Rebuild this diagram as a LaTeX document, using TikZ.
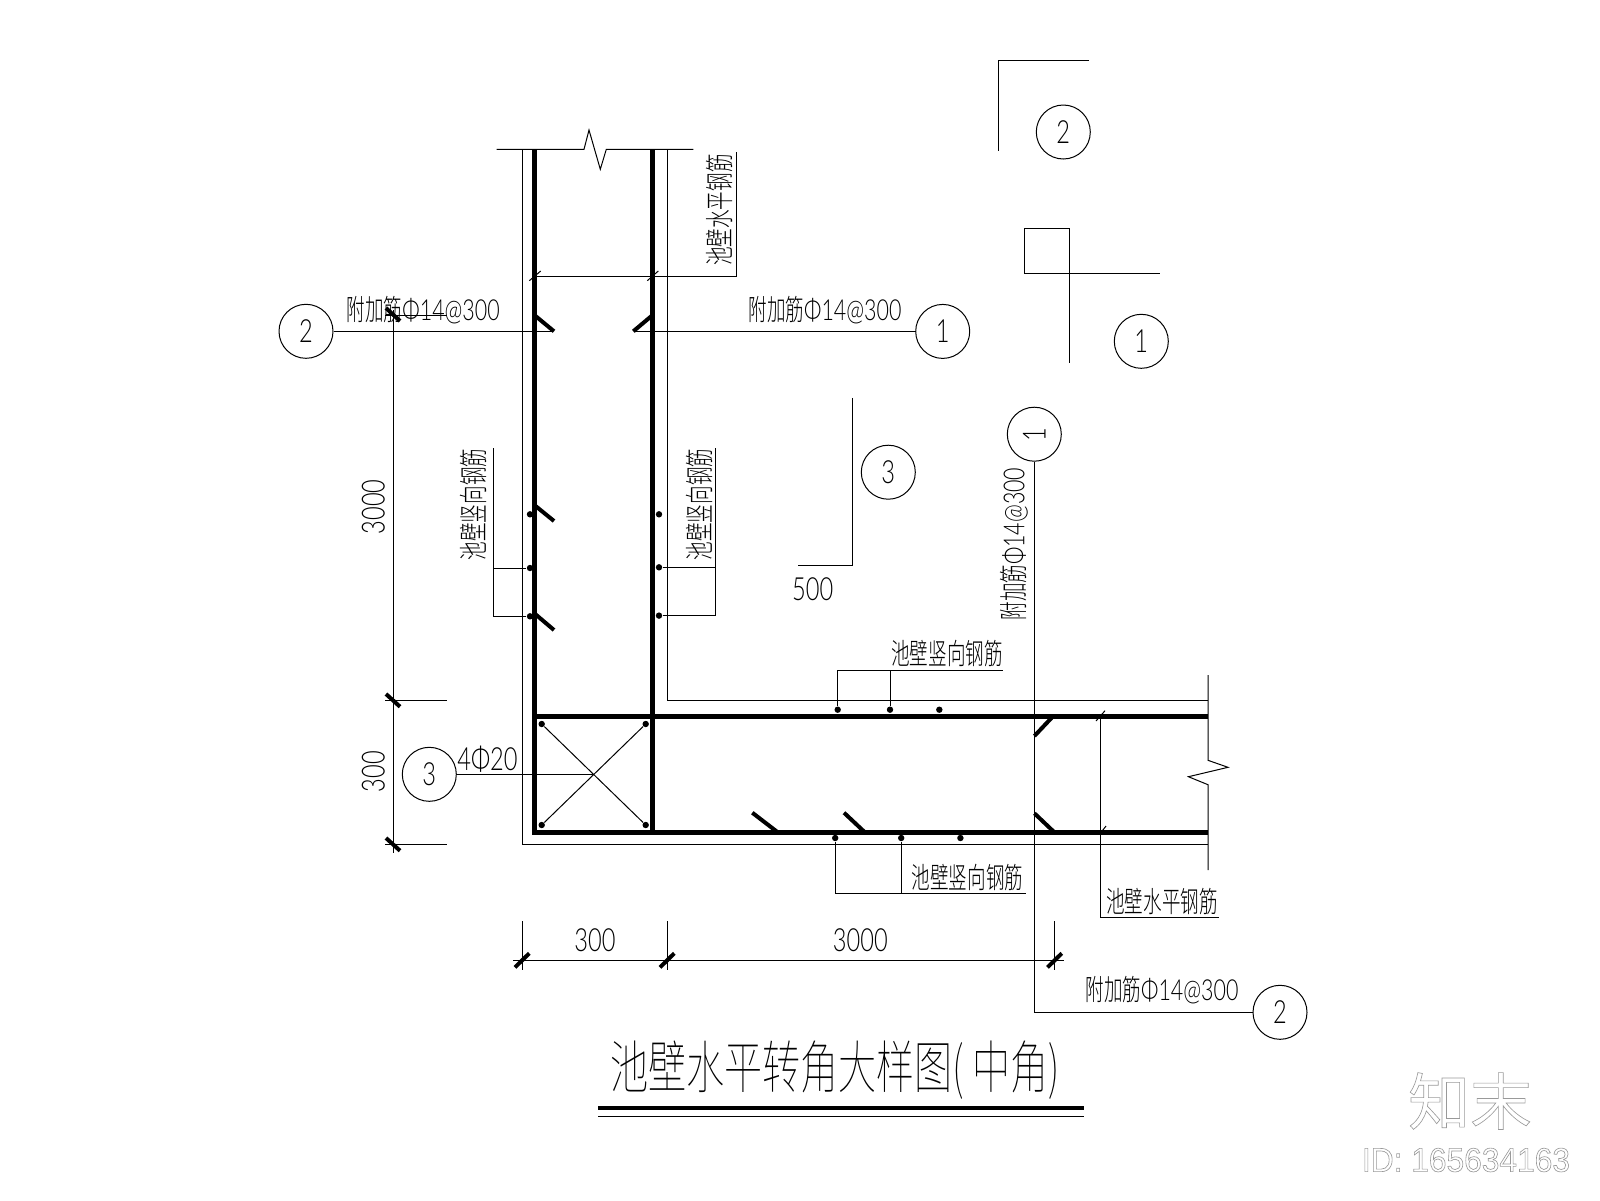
\documentclass[tikz,border=0pt]{standalone}
\usepackage{fontspec}
\usepackage{tikz}
\newfontfamily\cjk[FakeStretch=0.64,UprightFont=* Light]{Noto Sans CJK SC}
\newfontfamily\titlecjk[FakeStretch=0.665,UprightFont=* Thin]{Noto Sans CJK SC}
\newfontfamily\markcjk{Noto Sans CJK SC}
\newfontfamily\numf[FakeStretch=0.74,UprightFont=* Light]{Lato}
\newfontfamily\markf[FakeStretch=0.94]{Liberation Sans}
\newcommand{\addbar}{{\cjk 附加筋}{\numf Φ14@300}}
\newcommand{\hollowtext}[1]{\special{pdf:code q 1 Tr 0.45 w 0.6 0.6 0.6 RG}#1\special{pdf:code Q}}
\tikzset{
  thinline/.style={line width=0.25mm},
  rebar/.style={line width=1.15mm},
  hook/.style={line width=1mm},
  dimtick/.style={line width=1mm},
  bardot/.style={circle,fill=black,inner sep=0,minimum size=1.6mm},
  bubble/.style={circle,draw,line width=0.25mm,inner sep=0,minimum size=13.5mm,font=\fontsize{22.7}{22.7}\selectfont\numf},
  cjklabel/.style={inner sep=0,font=\fontsize{20.6}{20.6}\selectfont\cjk},
  numlabel/.style={inner sep=0,font=\fontsize{22.7}{22.7}\selectfont\numf},
}
\begin{document}
\begin{tikzpicture}[x=0.25mm,y=-0.25mm,thinline]
\useasboundingbox (0,0) rectangle (1600,1200);
\draw (496.7,149.3)-- (584,149.3)-- (589,130)-- (600.3,169.3)-- (606.3,149.3)-- (693.3,149.3);
\draw (522.3,149.3)-- (522.3,844.3)-- (1208,844.3);
\draw (667.3,149.3)-- (667.3,700.3)-- (1208,700.3);
\draw[rebar] (534.3,149.3)-- (534.3,835);
\draw[rebar] (652.7,149.3)-- (652.7,835);
\draw[rebar] (532,716.3)-- (1208,716.3);
\draw[rebar] (532,832.7)-- (1208,832.7);
\draw (1208,675)-- (1208,760.3)-- (1228,767.3)-- (1188.4,776.7)-- (1208,784.7)-- (1208,870);
\draw[hook] (534.3,315)-- (554,331.3);
\draw[hook] (652.7,315)-- (633.3,331.3);
\draw[hook] (534.3,505)-- (554,521);
\draw[hook] (534.3,613.3)-- (554,630);
\draw[hook] (1053,716.3)-- (1034.4,736);
\draw[hook] (778.3,832.7)-- (752.3,812.7);
\draw[hook] (865.3,832.7)-- (844,812.7);
\draw[hook] (1054.8,832.7)-- (1034.4,813.3);
\node[bardot] (d1) at (530,514.3) {};
\node[bardot] (d2) at (530,568) {};
\node[bardot] (d3) at (530,616.3) {};
\node[bardot] (d4) at (659,514.3) {};
\node[bardot] (d5) at (659,567.3) {};
\node[bardot] (d6) at (659,615.6) {};
\node[bardot] (d7) at (837.7,709.7) {};
\node[bardot] (d8) at (890,709.7) {};
\node[bardot] (d9) at (939.3,709.7) {};
\node[bardot] (d10) at (835.2,838) {};
\node[bardot] (d11) at (901.2,838) {};
\node[bardot] (d12) at (960.4,838) {};
\node[bardot] (k1) at (541.7,724) {};
\node[bardot] (k2) at (645.7,724) {};
\node[bardot] (k3) at (541.7,825) {};
\node[bardot] (k4) at (645.7,825) {};
\draw (k1)-- (k4);
\draw (k2)-- (k3);
\node[bubble] (c2a) at (306,331.3) {2};
\node[bubble] (c1a) at (942.7,331.4) {1};
\node[bubble] (c3a) at (429.3,774.3) {3};
\node[bubble] (c2b) at (1280,1012.3) {2};
\node[bubble] (c1b) at (1034.3,434.2) {\rotatebox{90}{1}};
\node[bubble] (s2) at (1063.3,132) {2};
\node[bubble] (s1) at (1141.3,341.3) {1};
\node[bubble] (s3) at (888.3,472.2) {3};
\coordinate (endA) at (552,331.3);
\coordinate (endB) at (635,331.4);
\coordinate (crossX) at (594.3,774.3);
\coordinate (turnC) at (1034.3,1012.3);
\draw (c2a)-- (endA);
\draw (c1a)-- (endB);
\draw (c3a)-- (crossX);
\draw (c1b)-- (turnC)-- (c2b);
\coordinate (hA) at (537,276);
\draw (hA)-- (736.7,276)-- (736.7,152.3);
\draw (529.3,280.7)-- (540.7,271);
\draw (647.3,280.7)-- (658.3,271);
\draw (1096,721)-- (1105,710.7);
\draw (1100.8,832.7)-- (1106,826);
\draw (1100.8,716.3)-- (1100.8,917.3)-- (1219.2,917.3);
\draw (493.3,448.3)-- (493.3,616.3)-- (d3);
\draw (493.3,568)-- (d2);
\draw (715,448.3)-- (715,615.6)-- (d6);
\draw (715,567.3)-- (d5);
\draw (d7)-- (837.7,670.3)-- (1002.8,670.3);
\draw (d8)-- (890,670.3);
\draw (d10)-- (835.2,893.3)-- (1026,893.3);
\draw (d11)-- (901.2,893.3);
\draw (393.3,310)-- (393.3,853.3);
\draw (385,315)-- (446.7,315);
\draw (385,700.3)-- (446.7,700.3);
\draw (385,844.3)-- (446.7,844.3);
\draw[dimtick] (386,308)-- (400,321);
\draw[dimtick] (386,694)-- (400,706.7);
\draw[dimtick] (386,838)-- (400,850.7);
\draw (513.3,960.3)-- (1063.8,960.3);
\draw (522.3,921)-- (522.3,970);
\draw (667.3,921)-- (667.3,970);
\draw (1054.8,921)-- (1054.8,970);
\draw[dimtick] (515,967.3)-- (529.3,953.3);
\draw[dimtick] (660,967.3)-- (674.3,953.3);
\draw[dimtick] (1047.5,967.3)-- (1061.8,953.3);
\draw (1089,60.6)-- (998.3,60.6)-- (998.3,150.7);
\draw (1024.3,228.2) rectangle (1069.3,273.3);
\draw (1069.3,273.3)-- (1160,273.3);
\draw (1069.3,273.3)-- (1069.3,363.4);
\draw (852.3,397.8)-- (852.3,565.5)-- (798,565.5);
\node[cjklabel,rotate=90] (lblH1) at (720,210) {池壁水平钢筋};
\node[cjklabel,rotate=90] (lblV1) at (473.3,504.5) {池壁竖向钢筋};
\node[cjklabel,rotate=90] (lblV2) at (700,504.5) {池壁竖向钢筋};
\node[cjklabel] (lblV3) at (947,654) {池壁竖向钢筋};
\node[cjklabel] (lblV4) at (967.5,877.3) {池壁竖向钢筋};
\node[cjklabel] (lblH2) at (1162,901.7) {池壁水平钢筋};
\node[cjklabel] (lblA) at (423.3,310) {\addbar};
\node[cjklabel] (lblB) at (825,310) {\addbar};
\node[cjklabel] (lblC) at (1162,990) {\addbar};
\node[cjklabel,rotate=90] (lblD) at (1014,544) {\addbar};
\node[numlabel] (lbl4) at (487.5,759.3) {4Φ20};
\node[numlabel,rotate=90] (dimV1) at (373.3,506.7) {3000};
\node[numlabel,rotate=90] (dimV2) at (373.3,771.7) {300};
\node[numlabel] (dimH1) at (595,940) {300};
\node[numlabel] (dimH2) at (860.3,940) {3000};
\node[numlabel] (lbl500) at (812.7,589.6) {500};
\node[inner sep=0,font=\fontsize{40.7}{40.7}\selectfont\titlecjk] (title) at (835,1070) {池壁水平转角大样图( 中角)};
\draw[line width=1mm] (598,1108)-- (1084,1108);
\draw (598,1116.3)-- (1084,1116.3);
\node[inner sep=0,font=\fontsize{44}{44}\selectfont\markcjk] (markA) at (1470,1101) {\hollowtext{知末}};
\node[inner sep=0,font=\fontsize{24}{24}\selectfont\markf] (markB) at (1466,1160) {\hollowtext{ID: 165634163}};
\end{tikzpicture}
\end{document}
